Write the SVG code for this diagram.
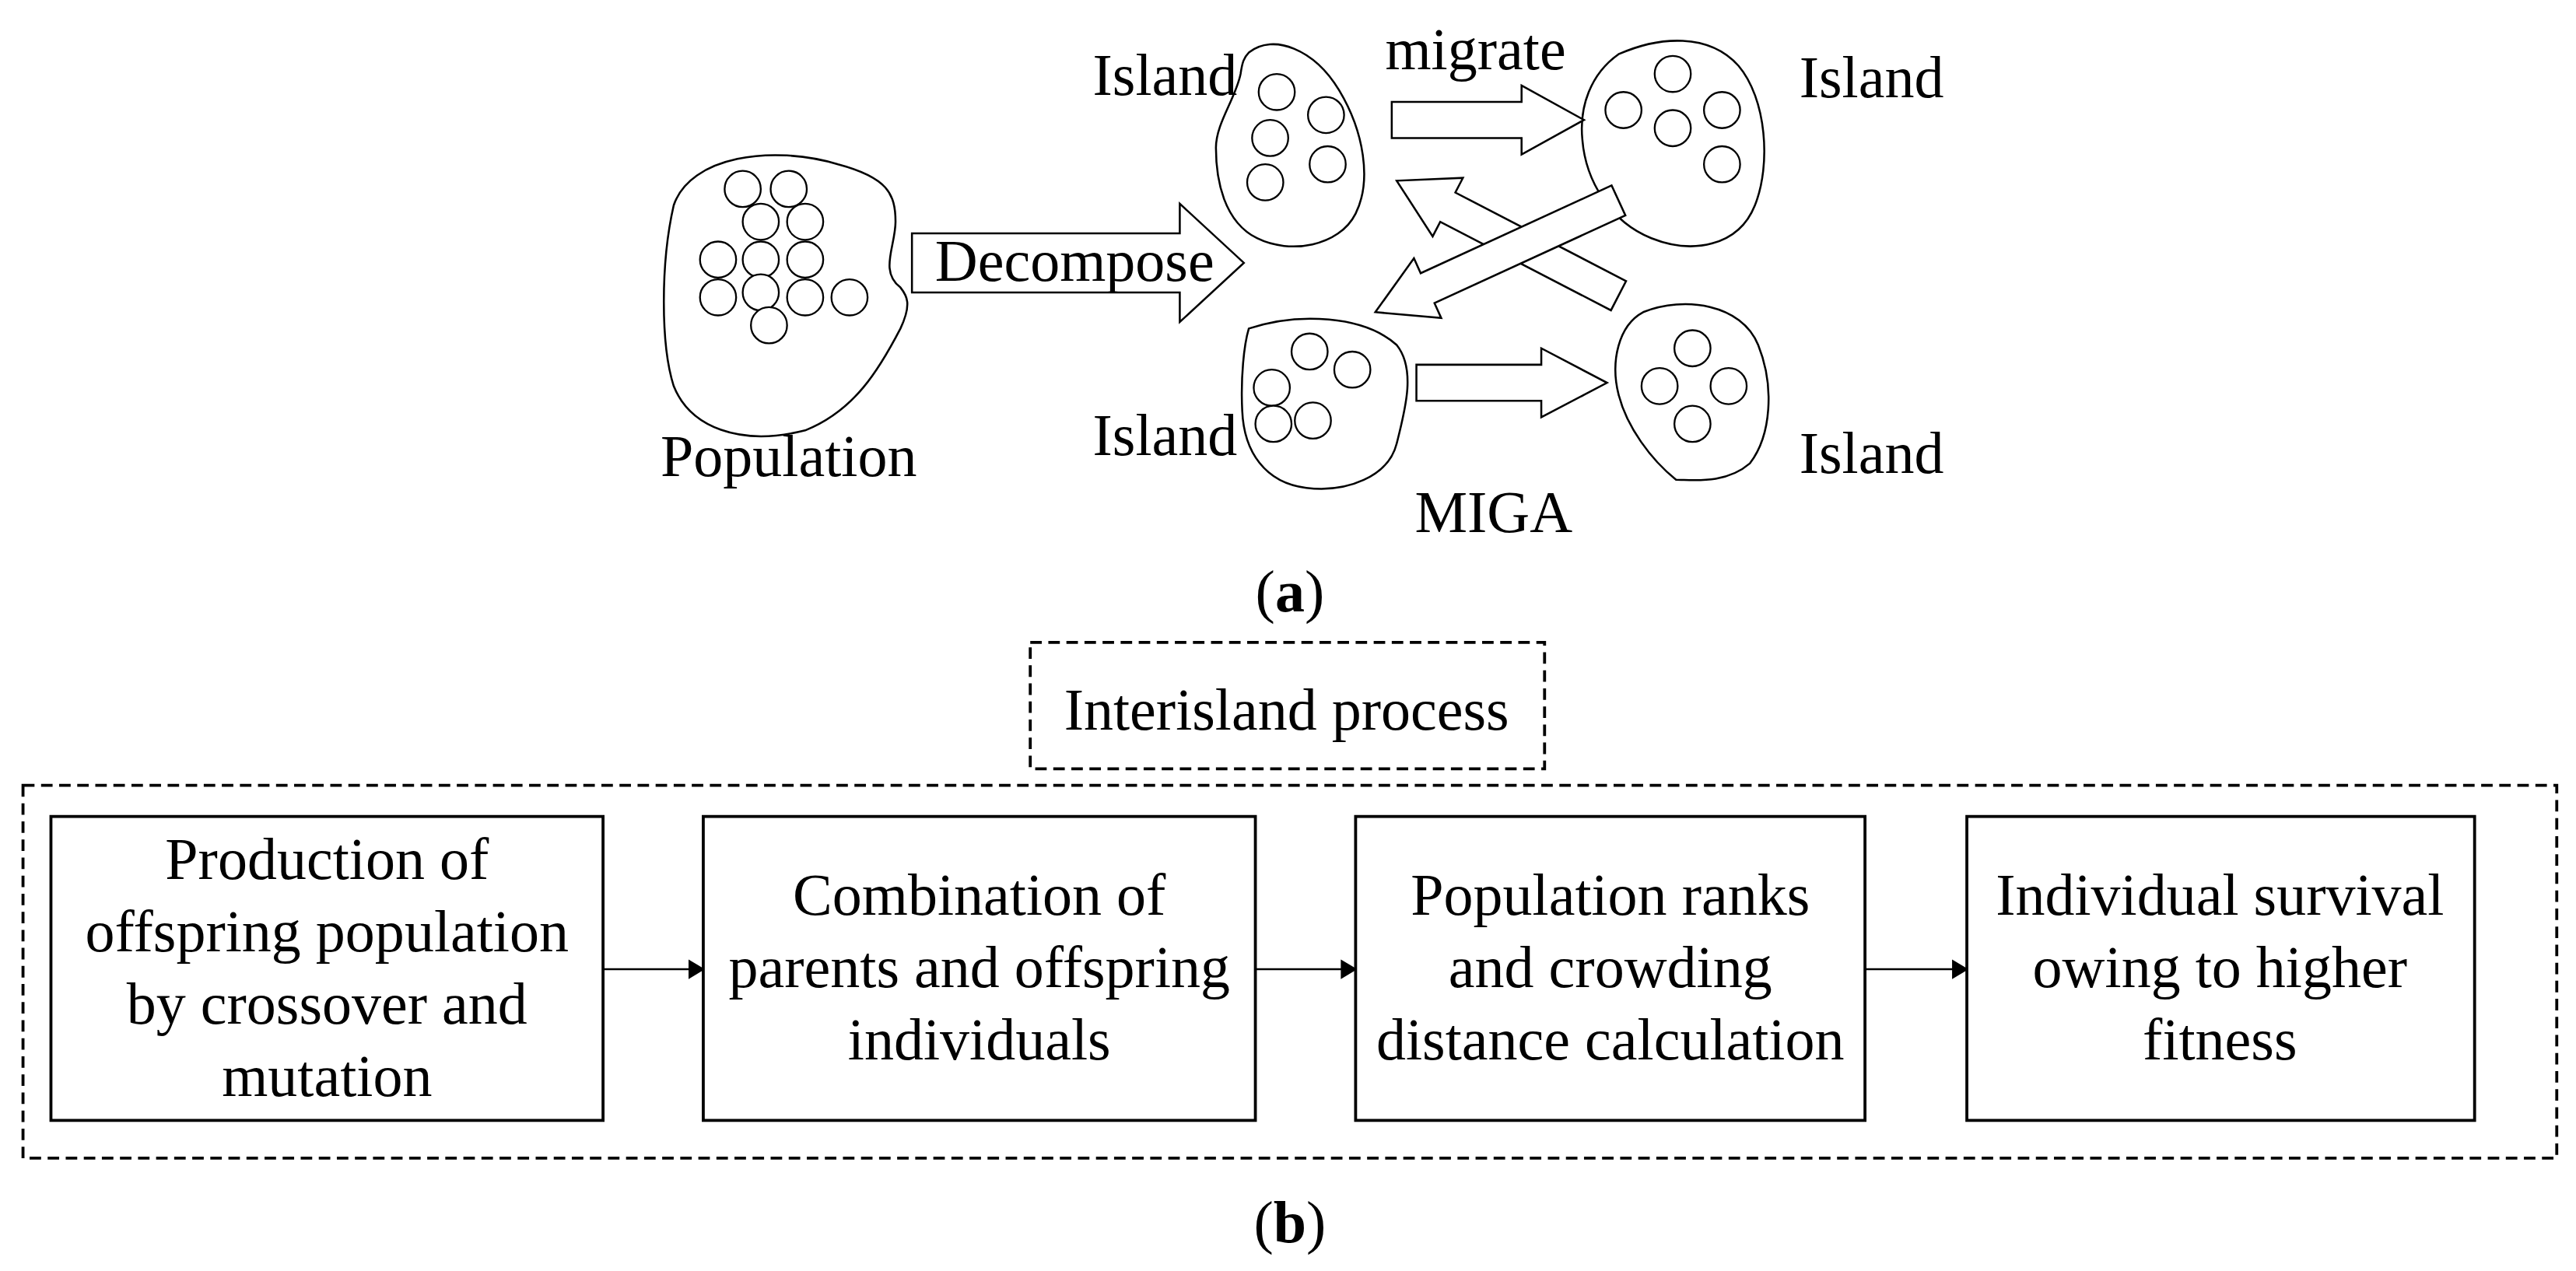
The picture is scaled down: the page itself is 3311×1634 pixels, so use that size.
<svg xmlns="http://www.w3.org/2000/svg" width="3311" height="1634" viewBox="0 0 3311 1634">
<style>
.s{fill:none;stroke:#000;stroke-width:1.2}
.w{fill:#fff;stroke:#000;stroke-width:1.2}
.b{fill:#fff;stroke:#000;stroke-width:1.8}
.d{fill:none;stroke:#000;stroke-width:1.8;stroke-dasharray:7,4}
.t{font-family:"Liberation Serif","Times New Roman",serif;font-size:36px;fill:#000;text-anchor:middle}
.e{text-anchor:end}
.st{text-anchor:start}
.c{fill:#fff;stroke:#000;stroke-width:1.1}
</style>
<defs>
<marker id="ah" markerWidth="10" markerHeight="12" refX="9" refY="6" orient="auto" markerUnits="userSpaceOnUse"><path d="M0,0 L10,6 L0,12 Z" fill="#000"/></marker>
</defs>
<rect width="3311" height="1634" fill="#fff"/>
<g transform="scale(2.112)">
<g id="population">
<path class="s" d="M410,125 C420,95 470,88 510,100 C540,108 545,118 545,135 C545,150 535,165 548,175 C552,180 555,185 548,200 C535,225 520,250 490,262 C450,272 420,260 410,235 C402,210 402,160 410,125 Z"/>
<circle class="c" cx="452" cy="115" r="11"/><circle class="c" cx="480" cy="115" r="11"/>
<circle class="c" cx="463" cy="135" r="11"/><circle class="c" cx="490" cy="135" r="11"/>
<circle class="c" cx="437" cy="158" r="11"/><circle class="c" cx="463" cy="158" r="11"/><circle class="c" cx="490" cy="158" r="11"/>
<circle class="c" cx="437" cy="181" r="11"/><circle class="c" cx="463" cy="178" r="11"/><circle class="c" cx="490" cy="181" r="11"/><circle class="c" cx="517" cy="181" r="11"/>
<circle class="c" cx="468" cy="198" r="11"/>
<text class="t" x="480" y="290">Population</text>
</g>
<g id="decompose">
<path class="w" d="M555,142 L718,142 L718,124 L757,160 L718,196 L718,178 L555,178 Z"/>
<text class="t" x="654" y="171">Decompose</text>
</g>
<g id="island-tl">
<path class="s" d="M760,32 C775,20 800,30 815,55 C830,80 835,110 825,130 C815,150 785,155 765,145 C745,135 740,110 740,90 C740,75 752,60 755,45 C756,38 757,35 760,32 Z"/>
<circle class="c" cx="777" cy="56" r="11"/><circle class="c" cx="807" cy="70" r="11"/><circle class="c" cx="773" cy="84" r="11"/><circle class="c" cx="808" cy="100" r="11"/><circle class="c" cx="770" cy="111" r="11"/>
<text class="t e" x="753" y="58">Island</text>
</g>
<g id="island-tr">
<path class="s" d="M985,33 C1010,22 1040,20 1058,40 C1075,60 1078,100 1068,125 C1058,150 1030,155 1005,145 C980,135 965,110 963,85 C961,65 968,45 985,33 Z"/>
<circle class="c" cx="1018" cy="45" r="11"/><circle class="c" cx="988" cy="67" r="11"/><circle class="c" cx="1018" cy="78" r="11"/><circle class="c" cx="1048" cy="67" r="11"/><circle class="c" cx="1048" cy="100" r="11"/>
<text class="t st" x="1095" y="59">Island</text>
</g>
<g id="island-bl">
<path class="s" d="M760,200 C790,190 830,192 850,210 C862,225 855,250 850,270 C845,290 820,300 795,297 C770,294 757,275 756,250 C755,230 757,210 760,200 Z"/>
<circle class="c" cx="797" cy="214" r="11"/><circle class="c" cx="823" cy="225" r="11"/><circle class="c" cx="774" cy="236" r="11"/><circle class="c" cx="775" cy="258" r="11"/><circle class="c" cx="799" cy="256" r="11"/>
<text class="t e" x="753" y="277">Island</text>
</g>
<g id="island-br">
<path class="s" d="M1000,190 C1025,180 1060,185 1070,210 C1080,235 1078,265 1065,282 C1050,295 1030,292 1020,292 C1005,280 990,260 985,240 C980,220 985,198 1000,190 Z"/>
<circle class="c" cx="1030" cy="212" r="11"/><circle class="c" cx="1010" cy="235" r="11"/><circle class="c" cx="1052" cy="235" r="11"/><circle class="c" cx="1030" cy="258" r="11"/>
<text class="t st" x="1095" y="288">Island</text>
</g>
<g id="connectors">
<path class="w" d="M847,62 L926,62 L926,52 L964,73 L926,94 L926,84 L847,84 Z"/>
<text class="t" x="898" y="42">migrate</text>
<path class="w" d="M862,222 L938,222 L938,212 L978,233 L938,254 L938,244 L862,244 Z"/>
<path class="w" d="M989.6,171.1 L885.7,117.2 L890.3,108.3 L850,110 L871.9,143.9 L876.5,135 L980.4,188.9 Z"/>
<path class="w" d="M980.8,112.9 L864.6,166.3 L860.5,157.2 L837,190 L877.1,193.6 L873,184.5 L989.2,131.1 Z"/>
<line x1="367" y1="590" x2="428" y2="590" stroke="#000" stroke-width="1.2" marker-end="url(#ah)"/>
<line x1="764" y1="590" x2="825" y2="590" stroke="#000" stroke-width="1.2" marker-end="url(#ah)"/>
<line x1="1135" y1="590" x2="1197" y2="590" stroke="#000" stroke-width="1.2" marker-end="url(#ah)"/>
</g>
<text class="t" x="909" y="324">MIGA</text>
<text class="t" x="785" y="372">(<tspan font-weight="bold">a</tspan>)</text>
<g id="interisland">
<rect class="d" x="627" y="391" width="313" height="77"/>
<text class="t" x="783" y="444">Interisland process</text>
</g>
<rect class="d" x="14" y="478" width="1542" height="227"/>
<g id="box1"><rect class="b" x="31" y="497" width="336" height="185"/>
<text class="t" x="199" y="535">Production of</text><text class="t" x="199" y="579">offspring population</text><text class="t" x="199" y="623">by crossover and</text><text class="t" x="199" y="667">mutation</text></g>
<g id="box2"><rect class="b" x="428" y="497" width="336" height="185"/>
<text class="t" x="596" y="557">Combination of</text><text class="t" x="596" y="601">parents and offspring</text><text class="t" x="596" y="645">individuals</text></g>
<g id="box3"><rect class="b" x="825" y="497" width="310" height="185"/>
<text class="t" x="980" y="557">Population ranks</text><text class="t" x="980" y="601">and crowding</text><text class="t" x="980" y="645">distance calculation</text></g>
<g id="box4"><rect class="b" x="1197" y="497" width="309" height="185"/>
<text class="t" x="1351" y="557">Individual survival</text><text class="t" x="1351" y="601">owing to higher</text><text class="t" x="1351" y="645">fitness</text></g>
<text class="t" x="785" y="756">(<tspan font-weight="bold">b</tspan>)</text>
</g>
</svg>
